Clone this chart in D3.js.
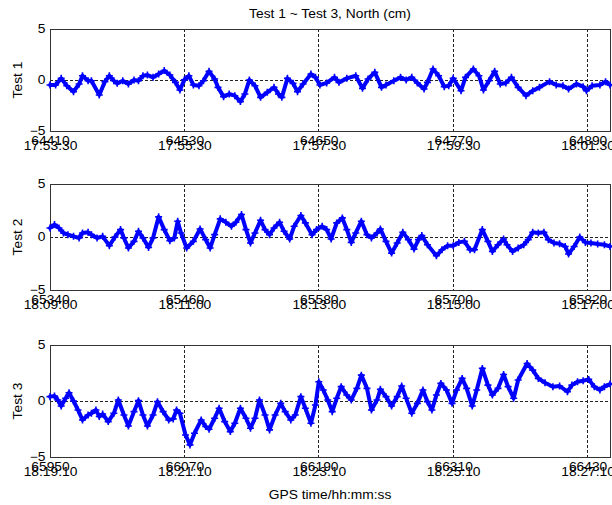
<!DOCTYPE html>
<html>
<head>
<meta charset="utf-8">
<script src="https://cdn.jsdelivr.net/npm/d3@7"></script>
<style>
  body { margin: 0; background: #fff; }
  text { font-family: "Liberation Sans", Arial, sans-serif; font-size: 12px; fill: #000; }
</style>
</head>
<body>
<svg id="chart" width="612" height="505"></svg>
<script>
// North offsets (cm) for three 500-second GPS sessions, sampled along each record.
const chartTitle = "Test 1 ~ Test 3, North (cm)";
const xTitle = "GPS time/hh:mm:ss";
const panelNames = ["Test 1", "Test 2", "Test 3"];

// Session start, GPS seconds of week
const test1Start = 64410;
const test2Start = 65340;
const test3Start = 65950;
const sessionLength = 500;

// Tick labels: GPS second and clock time
const test1Ticks = [64410, 64530, 64650, 64770, 64890];
const test1Clock = ["17:53:30", "17:55:30", "17:57:30", "17:59:30", "18:01:30"];
const test2Ticks = [65340, 65460, 65580, 65700, 65820];
const test2Clock = ["18:09:00", "18:11:00", "18:13:00", "18:15:00", "18:17:00"];
const test3Ticks = [65950, 66070, 66190, 66310, 66430];
const test3Clock = ["18:19:10", "18:21:10", "18:23:10", "18:25:10", "18:27:10"];
const yTicks = [-5, 0, 5];

// Test 1: elapsed seconds and north offset (cm)
const test1Elapsed = [0,5,10,15,21,26,29,34,37,44,
  49,53,57,60,65,70,75,79,83,87,
  92,97,102,107,112,116,120,124,128,133,
  137,142,147,150,155,160,165,170,174,178,
  183,188,194,200,204,207,212,217,221,226,
  233,237,241,247,254,258,265,273,279,284,
  290,296,300,307,313,318,323,328,334,337,
  342,347,352,356,360,367,371,378,383,387,
  392,397,402,407,412,418,425,431,437,446,
  452,458,463,470,476,479,484,491,496,500];
const test1North = [-0.49,-0.49,0.16,-0.56,-1.14,-0.39,0.42,-0.07,-0.07,-1.47,
  -0.16,0.42,-0.07,-0.33,-0.07,-0.39,0,-0.07,0.42,0.49,
  0.26,0.59,0.92,0.49,-0.23,-0.98,0.03,0.42,-0.49,-0.56,
  -0.07,0.85,0.1,-0.72,-1.63,-1.37,-1.54,-2.12,-1.37,0,
  -0.56,-1.7,-1.21,-0.72,-1.37,-1.7,0.16,-0.33,-1.14,-0.39,
  0.59,0.26,-0.49,-0.29,0.26,-0.23,0.16,0.42,-0.82,0.1,
  0.75,-0.72,-0.49,-0.07,0.26,0,0.26,-0.29,-0.88,-0.23,
  1.08,0.42,-0.65,-0.56,0.16,-1.05,0.26,1.08,0.42,-0.98,
  -0.07,0.85,-0.39,-0.29,0.26,-0.72,-1.54,-1.05,-0.72,-0.16,
  -0.49,-0.56,-0.88,-0.39,-0.65,-1.05,-0.56,-0.49,-0.16,-0.49];

// Test 2
const test2Elapsed = [0,4,8,12,16,21,26,29,34,37,
  42,47,53,58,63,66,70,75,79,83,
  88,92,97,102,107,111,114,117,122,128,
  134,139,143,147,152,157,162,166,171,175,
  179,183,188,192,196,200,205,209,214,218,
  224,228,234,238,243,247,251,256,261,265,
  269,273,278,283,287,292,295,300,305,310,
  315,320,325,329,332,337,345,350,355,360,
  365,370,375,379,386,391,395,400,405,408,
  413,418,423,427,431,436,441,445,450,455,
  460,463,468,473,478,483,489,495,500];
const test2North = [0.85,1.17,0.85,0.38,0.22,0.06,-0.09,0.38,0.44,0.22,
  -0.09,0.06,-0.82,0,0.7,-0.09,-1.04,-0.41,0.54,-0.09,
  -0.98,-0.09,1.9,0.7,-0.35,-0.09,1.49,0.38,-1.04,-0.41,
  0.76,-0.25,-1.04,0.22,1.71,1.39,1.01,1.39,2.12,0.7,
  -0.57,0.38,1.58,0.7,0.22,0.85,1.39,0.54,-0.19,1.01,
  2.03,1.33,0.22,0.7,1.01,0.7,-0.19,1.33,1.8,0.7,
  -0.51,0.38,1.49,0.22,-0.09,0.38,0.76,-0.41,-1.52,-0.57,
  0.44,-0.25,-1.14,-0.25,0.13,-0.73,-1.77,-1.2,-0.82,-0.82,
  -0.51,-0.41,-1.2,-1.2,0.7,-0.41,-1.36,-0.73,-0.19,-0.73,
  -1.36,-1.04,-0.73,-0.25,0.44,0.38,0.44,-0.25,-0.57,-0.63,
  -0.89,-1.61,-0.89,0,-0.51,-0.57,-0.66,-0.73,-0.89];

// Test 3
const test3Elapsed = [0,4,7,10,14,17,21,25,29,34,
  37,41,44,47,52,57,61,66,70,75,
  79,83,87,92,96,101,106,110,113,116,
  121,125,129,135,139,142,147,151,156,161,
  165,170,175,179,183,187,192,196,201,206,
  210,215,219,224,228,233,237,240,244,248,
  252,256,260,265,269,274,278,283,287,292,
  295,300,305,310,314,318,323,328,333,337,
  341,345,349,354,359,363,368,372,377,381,
  386,391,395,400,405,409,414,418,426,431,
  436,442,449,455,462,466,471,476,481,486,
  491,495,500];
const test3North = [0.39,0.45,0.09,-0.45,0.24,0.74,0,-0.8,-1.69,-1.25,
  -1.1,-0.8,-1.39,-1.16,-1.84,-1.1,0.09,-1.25,-2.23,-0.95,
  0.03,-1.25,-2.23,-1.25,-0.06,-0.95,-1.69,-1.6,-0.8,-1.1,
  -3.03,-3.92,-2.88,-1.69,-2.28,-2.52,-1.54,-0.65,-1.84,-2.73,
  -1.99,-0.65,-1.54,-2.43,-1.54,0.09,-1.25,-2.58,-1.25,-0.21,
  -0.95,-1.69,-1.25,0.39,-0.65,-1.99,-0.36,1.72,0.98,0.09,
  -0.95,0.24,1.28,0.53,0.09,1.13,2.31,1.13,-0.8,0.09,
  1.04,0.39,-0.45,0.39,1.34,0.24,-1.1,-0.21,0.98,-0.06,
  -0.8,0.53,1.57,0.98,-0.21,0.98,2.02,1.13,-0.45,0.98,
  2.91,1.42,0.53,1.13,2.37,1.28,0.24,1.87,3.35,2.76,
  2.02,1.63,1.28,1.34,0.83,1.42,1.72,1.81,1.93,1.28,
  0.98,1.28,1.51];

const sessions = [
  { name: panelNames[0], start: test1Start, elapsed: test1Elapsed, north: test1North, ticks: test1Ticks, clock: test1Clock },
  { name: panelNames[1], start: test2Start, elapsed: test2Elapsed, north: test2North, ticks: test2Ticks, clock: test2Clock },
  { name: panelNames[2], start: test3Start, elapsed: test3Elapsed, north: test3North, ticks: test3Ticks, clock: test3Clock }
];

// Layout of the three stacked axes
const plotLeft = 50, plotRight = 610;
const panelBox = [ { top: 29, bottom: 131 }, { top: 184, bottom: 290 }, { top: 345, bottom: 457 } ];
const stretch = "scale(1.15,1)";
const blue = "#0000ff";

const svg = d3.select("#chart");

sessions.forEach((s, k) => {
  const box = panelBox[k];
  const x = d3.scaleLinear().domain([s.start, s.start + sessionLength]).range([plotLeft, plotRight]);
  const y = d3.scaleLinear().domain([-5, 5]).range([box.bottom, box.top]);
  const g = svg.append("g");

  // dotted grid
  g.append("g").selectAll("line").data(s.ticks).join("line")
    .attr("x1", d => x(d)).attr("x2", d => x(d))
    .attr("y1", box.top).attr("y2", box.bottom)
    .attr("stroke", "#222").attr("stroke-dasharray", "3,2").attr("shape-rendering", "crispEdges");
  g.append("g").selectAll("line").data(yTicks).join("line")
    .attr("x1", plotLeft).attr("x2", plotRight)
    .attr("y1", d => y(d)).attr("y2", d => y(d))
    .attr("stroke", "#222").attr("stroke-dasharray", "3,2").attr("shape-rendering", "crispEdges");

  // frame
  g.append("rect")
    .attr("x", plotLeft).attr("y", box.top)
    .attr("width", plotRight - plotLeft).attr("height", box.bottom - box.top)
    .attr("fill", "none").attr("stroke", "#333").attr("shape-rendering", "crispEdges");

  // x axis labels: GPS second over clock time
  const xa = g.append("g").attr("transform", `translate(0,${box.bottom})`)
    .call(d3.axisBottom(x).tickValues(s.ticks).tickSize(0).tickPadding(0).tickFormat(d3.format("d")));
  xa.select(".domain").remove();
  xa.selectAll(".tick text").attr("y", 0).attr("dy", null)
    .attr("transform", "translate(0,14) " + stretch);
  xa.selectAll(".tick").append("text")
    .attr("text-anchor", "middle")
    .attr("transform", "translate(0,19) " + stretch)
    .text((d, i) => s.clock[i]);

  // y axis labels
  const ya = g.append("g").attr("transform", `translate(${plotLeft},0)`)
    .call(d3.axisLeft(y).tickValues(yTicks).tickSize(0).tickPadding(4).tickFormat(d3.format("d")));
  ya.select(".domain").remove();
  ya.selectAll(".tick text").attr("transform", stretch);

  // y axis title
  g.append("text")
    .attr("text-anchor", "middle")
    .attr("transform", `translate(22,${(box.top + box.bottom) / 2}) rotate(-90) ${stretch}`)
    .text(s.name);

  // record: thick trace with a '+' at every sample
  const pts = s.elapsed.map((e, i) => [s.start + e, s.north[i]]);
  g.append("path").datum(pts)
    .attr("d", d3.line().x(d => x(d[0])).y(d => y(d[1])))
    .attr("fill", "none").attr("stroke", blue).attr("stroke-width", 4)
    .attr("stroke-linejoin", "round").attr("stroke-linecap", "round");
  g.append("g").selectAll("path").data(pts).join("path")
    .attr("transform", d => `translate(${x(d[0])},${y(d[1])})`)
    .attr("d", "M-3.5,0H3.5M0,-3.5V3.5")
    .attr("stroke", blue).attr("stroke-width", 1.6);
});

svg.append("text").attr("text-anchor", "middle")
  .attr("transform", "translate(330,18) " + stretch).text(chartTitle);
svg.append("text").attr("text-anchor", "middle")
  .attr("transform", "translate(330,499) " + stretch).text(xTitle);
</script>
</body>
</html>
